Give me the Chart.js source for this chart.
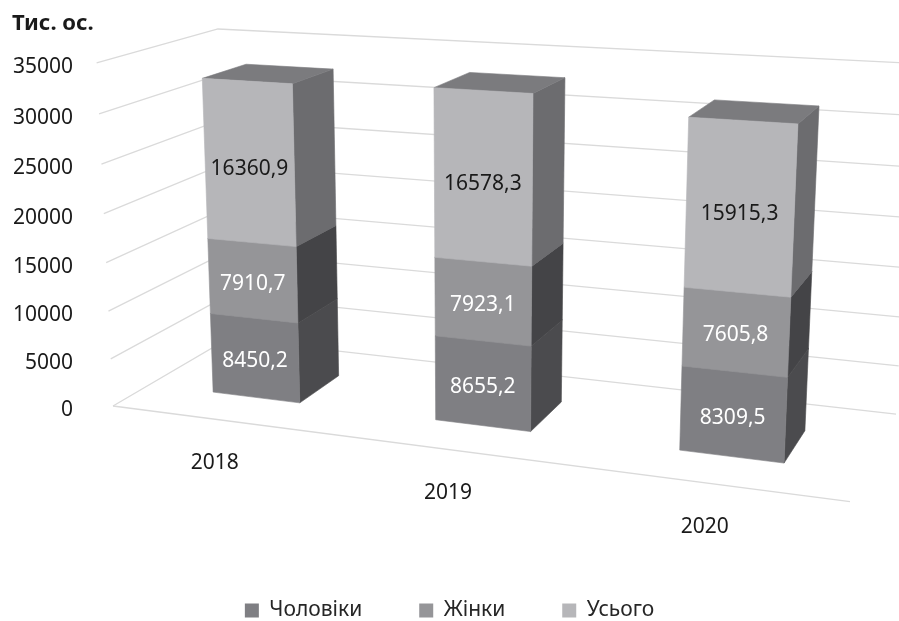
<!DOCTYPE html>
<html>
<head>
<meta charset="utf-8">
<script src="https://cdn.jsdelivr.net/npm/chart.js@4"></script>
<style>
  html, body { margin: 0; padding: 0; background: #ffffff; }
</style>
</head>
<body>
<canvas id="Chart" width="899" height="621"></canvas>
<script>
//chart data
var years = ["2018", "2019", "2020"];
var seriesNames = ["Чоловіки", "Жінки", "Усього"];
var men = [8450.2, 8655.2, 8309.5];
var women = [7910.7, 7923.1, 7605.8];
var total = [16360.9, 16578.3, 15915.3];
var yTicks = [0, 5000, 10000, 15000, 20000, 25000, 30000, 35000];
var yTitle = "Тис. ос.";

//face colours per series (front, right side, top)
var faceFront = ["#7f7f83", "#959598", "#b6b6b9"];
var faceSide = ["#4b4b4e", "#444447", "#6c6c6f"];
var faceTop = ["#6a6a6d", "#707073", "#7b7b7e"];
var labelColors = ["#ffffff", "#ffffff", "#1a1a1a"];

//perspective camera: vanishing points of the x, y, z directions and the floor front-left corner
var VP_X = [-4630, -210];
var VP_Y = [476, 8000];
var VP_Z = [1250, -260];
var ORIGIN = [113, 406];
var K_X = -0.04483; // per category
var K_Y = -0.04322; // per full value axis
var K_Z = 0.1125; // per wall depth
var DEPTH0 = 0.3, DEPTH1 = 0.68;

var FONT = "'Noto Sans', 'Open Sans', sans-serif";

//world (category units, axis fraction, depth fraction) -> screen
function project(x, yf, z) {
  var p = K_X * x, q = K_Y * yf, r = K_Z * z;
  var w = 1 + p + q + r;
  return [
    (p * VP_X[0] + q * VP_Y[0] + r * VP_Z[0] + ORIGIN[0]) / w,
    (p * VP_X[1] + q * VP_Y[1] + r * VP_Z[1] + ORIGIN[1]) / w,
  ];
}

function poly(ctx, pts, color) {
  ctx.beginPath();
  ctx.moveTo(pts[0][0], pts[0][1]);
  for (var k = 1; k < pts.length; k++) ctx.lineTo(pts[k][0], pts[k][1]);
  ctx.closePath();
  ctx.fillStyle = color;
  ctx.strokeStyle = color;
  ctx.lineWidth = 0.6;
  ctx.fill();
  ctx.stroke();
}

//draws walls, ticks and 3d bars instead of the flat ones
var bars3d = {
  id: "bars3d",
  beforeDatasetsDraw(chart) {
    var ctx = chart.ctx;
    var xs = chart.scales.x, ys = chart.scales.y;
    var nCat = chart.data.labels.length;
    var yfPix = function (px) { return (ys.bottom - px) / (ys.bottom - ys.top); };
    var xw = function (px) { return ((px - xs.left) / xs.width) * nCat; };

    ctx.save();
    //gridlines on side and back wall
    ctx.strokeStyle = "#dadada";
    ctx.lineWidth = 1.3;
    yTicks.forEach(function (t) {
      var f = yfPix(ys.getPixelForValue(t));
      var a = project(0, f, 0), b = project(0, f, 1), c = project(nCat, f, 1);
      ctx.beginPath();
      ctx.moveTo(a[0], a[1]);
      ctx.lineTo(b[0], b[1]);
      ctx.lineTo(c[0], c[1]);
      ctx.stroke();
    });
    //floor front edge
    var f0 = project(0, 0, 0), f1 = project(nCat, 0, 0);
    ctx.beginPath();
    ctx.moveTo(f0[0], f0[1]);
    ctx.lineTo(f1[0], f1[1]);
    ctx.stroke();

    //value axis labels
    ctx.fillStyle = "#1a1a1a";
    ctx.font = "21px " + FONT;
    ctx.textAlign = "right";
    ctx.textBaseline = "middle";
    yTicks.forEach(function (t) {
      var p = project(0, yfPix(ys.getPixelForValue(t)), 0);
      ctx.fillText(String(t), 73, p[1] + 4);
    });

    //category labels
    ctx.textAlign = "center";
    chart.data.labels.forEach(function (lab, i) {
      var p = project(xw(xs.getPixelForValue(i)), 0, 0);
      ctx.fillText(lab, p[0] - 7, p[1] + 43);
    });

    //bars, back (left) to front (right), bottom to top
    var labels = [];
    for (var i = 0; i < nCat; i++) {
      chart.data.datasets.forEach(function (ds, d) {
        var el = chart.getDatasetMeta(d).data[i];
        var x0 = xw(el.x - el.width / 2), x1 = xw(el.x + el.width / 2);
        var y0 = yfPix(el.base), y1 = yfPix(el.y);
        var z0 = DEPTH0, z1 = DEPTH1;
        poly(ctx, [project(x1, y0, z0), project(x1, y0, z1), project(x1, y1, z1), project(x1, y1, z0)], faceSide[d]);
        poly(ctx, [project(x0, y1, z0), project(x1, y1, z0), project(x1, y1, z1), project(x0, y1, z1)], faceTop[d]);
        poly(ctx, [project(x0, y0, z0), project(x1, y0, z0), project(x1, y1, z0), project(x0, y1, z0)], faceFront[d]);
        var c = project((x0 + x1) / 2, y0 + (y1 - y0) * 0.46, z0);
        labels.push({ text: ds.data[i].toFixed(1).replace(".", ","), x: c[0], y: c[1], color: labelColors[d] });
      });
    }

    //data labels
    ctx.font = "21px " + FONT;
    ctx.textAlign = "center";
    ctx.textBaseline = "middle";
    labels.forEach(function (l) {
      ctx.fillStyle = l.color;
      ctx.fillText(l.text, l.x, l.y);
    });
    ctx.restore();
    return false;
  },
};

Chart.defaults.font.family = FONT;

var ctx = document.getElementById("Chart").getContext("2d");
var myChart = new Chart(ctx, {
  type: "bar",
  data: {
    labels: years,
    datasets: [
      { label: seriesNames[0], data: men, backgroundColor: faceFront[0] },
      { label: seriesNames[1], data: women, backgroundColor: faceFront[1] },
      { label: seriesNames[2], data: total, backgroundColor: faceFront[2] },
    ],
  },
  options: {
    responsive: false,
    animation: false,
    layout: { padding: { left: 12, right: 12, top: 4, bottom: -10 } },
    datasets: { bar: { categoryPercentage: 1, barPercentage: 0.4 } },
    scales: {
      x: { display: false, stacked: true },
      y: { display: false, stacked: true, min: 0, max: 35000 },
    },
    plugins: {
      title: {
        display: true,
        text: yTitle,
        align: "start",
        color: "#1a1a1a",
        font: { size: 22, weight: "bold" },
        padding: { top: 7, bottom: 4 },
      },
      legend: {
        position: "bottom",
        labels: {
          boxWidth: 14,
          boxHeight: 14,
          padding: 57,
          color: "#262626",
          font: { size: 21 },
        },
      },
      tooltip: { enabled: false },
    },
  },
  plugins: [bars3d],
});
</script>
</body>
</html>
